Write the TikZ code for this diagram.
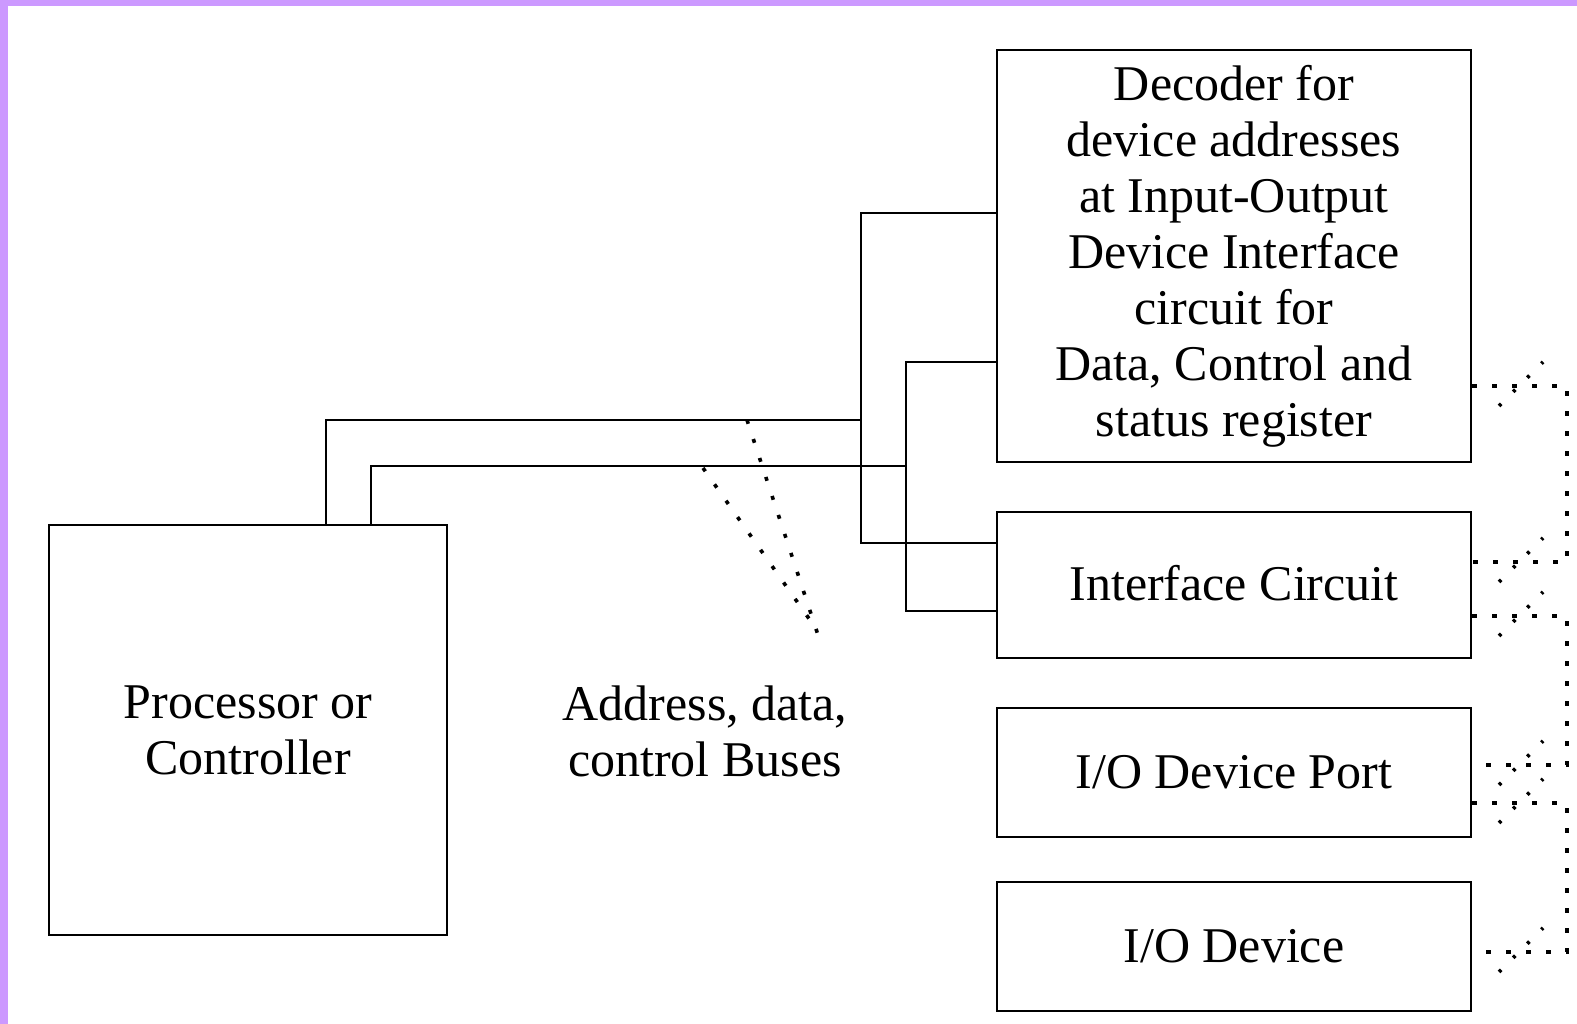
\documentclass[tikz,border=0pt]{standalone}
\usepackage{fontspec}
\setmainfont{Liberation Serif}
\usetikzlibrary{calc}
\definecolor{framelilac}{RGB}{204,153,255}
\begin{document}
\begin{tikzpicture}[x=1pt,y=-1pt,
  unitbox/.style={draw=black,line width=2.9pt,inner sep=0pt,align=center,
    font=\fontsize{50}{56}\selectfont},
  wire/.style={line width=2.9pt,black},
  busdot/.style={line width=3.2pt,black,dash pattern=on 5pt off 15pt},
  slashdot/.style={line width=3.6pt,black,dash pattern=on 3pt off 17pt},
  pointer/.style={line width=3.6pt,black,dash pattern=on 4pt off 16pt},
  caption/.style={align=center,font=\fontsize{50}{56}\selectfont}]

% page frame: lilac band on the top and left edges
\fill[framelilac] (0,0) rectangle (1577,1024);
\fill[white] (8,6) rectangle (1577,1024);
\useasboundingbox (0,0) rectangle (1577,1024);

% blocks
\node[unitbox,minimum width=398pt,minimum height=410pt] (proc) at (248,730)
  {Processor or\\Controller};
\node[unitbox,minimum width=474pt,minimum height=412pt] (dec) at (1234,256)
  {Decoder for\\device addresses\\at Input-Output\\Device Interface\\circuit for\\Data, Control and\\status register};
\node[unitbox,minimum width=474pt,minimum height=146pt] (intf) at (1234,585)
  {\raisebox{4pt}{Interface Circuit}};
\node[unitbox,minimum width=474pt,minimum height=129pt] (port) at (1234,772.5)
  {I/O Device Port};
\node[unitbox,minimum width=474pt,minimum height=129pt] (dev) at (1234,946.5)
  {I/O Device};
\node[caption] (buslbl) at (705,731) {Address, data,\\control Buses};

% bus routing points
\coordinate (aUp) at (326,420);
\coordinate (aJ)  at (861,420);
\coordinate (aDec) at (861,213);
\coordinate (aInt) at (861,543);
\coordinate (bUp) at (371,466);
\coordinate (bJ)  at (906,466);
\coordinate (bDec) at (906,362);
\coordinate (bInt) at (906,611);

% first bus
\draw[wire] (proc.north -| aUp) -- (aUp) -- (aJ) -- (aDec) -- (dec.west |- aDec);
\draw[wire] (aJ) -- (aInt) -- (intf.west |- aInt);
% second bus
\draw[wire] (proc.north -| bUp) -- (bUp) -- (bJ) -- (bDec) -- (dec.west |- bDec);
\draw[wire] (bJ) -- (bInt) -- (intf.west |- bInt);

% dotted leaders from the buses to their label
\coordinate (tipA) at (818,635);
\coordinate (tipB) at (817,630);
\draw[pointer] (747,420) -- (tipA);
\draw[pointer] (703,468) -- (tipB);

% dotted links on the right side
\coordinate (r1) at (1567,386);
\coordinate (r2) at (1567,562);
\coordinate (r3) at (1567,616);
\coordinate (r4) at (1567,765);
\coordinate (r5) at (1567,803);
\coordinate (r6) at (1567,952);
\draw[busdot] (dec.east |- r1) -- (r1) -- (r2) -- (intf.east |- r2);
\draw[busdot] (intf.east |- r3) -- (r3) -- (r4) -- (port.east |- r4);
\draw[busdot] (port.east |- r5) -- (r5) -- (r6) -- (dev.east |- r6);

% slash marks on each link
\foreach \p in {r1,r2,r3,r4,r5,r6}
  \draw[slashdot] ($(\p)+(-68,20)$) -- ($(\p)+(-24,-24)$);
\end{tikzpicture}
\end{document}
